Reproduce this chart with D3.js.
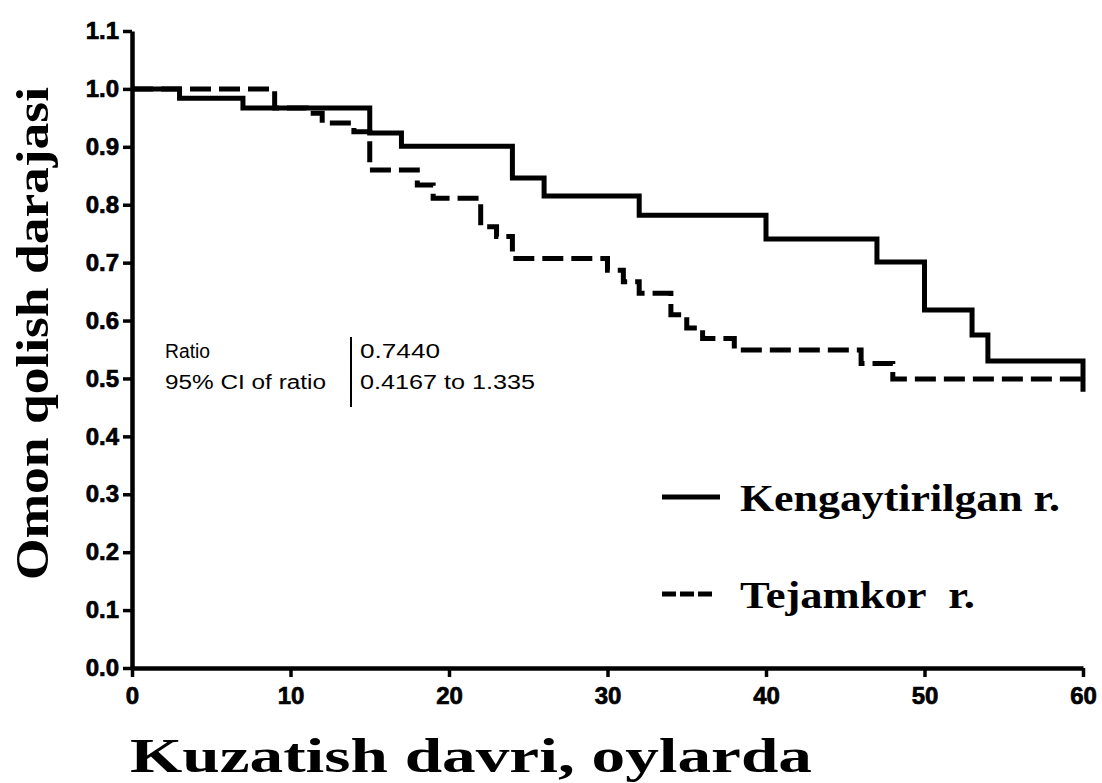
<!DOCTYPE html>
<html>
<head>
<meta charset="utf-8">
<script src="https://cdn.jsdelivr.net/npm/d3@7"></script>
<style>
  body { margin: 0; background: #fff; }
  .title { font-family: "Liberation Serif", "Times New Roman", serif; font-weight: bold; fill: #000; }
  .note { font-family: "Liberation Sans", Arial, sans-serif; font-size: 20px; fill: #000; }
</style>
</head>
<body>
<svg id="chart" width="1102" height="783"></svg>
<script>
// months and survival for the two groups
let timeKeng = [0, 3, 7, 15, 17, 24, 26, 32, 40, 47, 50, 53, 54, 60];
let survKeng = [1.0, 0.984, 0.967, 0.924, 0.901, 0.846, 0.815, 0.782, 0.741, 0.701, 0.618, 0.575, 0.530, 0.477];

let timeTeja = [0, 9, 11, 12, 14, 15, 18, 19, 22, 23, 24, 30, 31, 32, 34, 35, 36, 38, 46, 48, 60];
let survTeja = [1.0, 0.967, 0.958, 0.941, 0.926, 0.860, 0.834, 0.811, 0.762, 0.745, 0.707, 0.687, 0.667, 0.647, 0.610, 0.587, 0.569, 0.549, 0.526, 0.499, 0.499];

let xTicks = [0, 10, 20, 30, 40, 50, 60];
let yTicks = [0, 0.1, 0.2, 0.3, 0.4, 0.5, 0.6, 0.7, 0.8, 0.9, 1.0, 1.1];

let seriesNames = ["Kengaytirilgan r.", "Tejamkor  r."];
let noteLabels = ["Ratio", "95% CI of ratio"];
let noteValues = ["0.7440", "0.4167 to 1.335"];

let svg = d3.select("#chart");
svg.append("rect").attr("width", 1102).attr("height", 783).attr("fill", "#fff");

let xScale = d3.scaleLinear().domain([0, 60]).range([132, 1083]);
let yScale = d3.scaleLinear().domain([0, 1.1]).range([668, 31]);

let line = d3.line()
    .x(d => xScale(d[0]))
    .y(d => yScale(d[1]))
    .curve(d3.curveStepAfter);

svg.append("path")
    .datum(d3.zip(timeTeja, survTeja))
    .attr("d", line)
    .attr("fill", "none")
    .attr("stroke", "#000")
    .attr("stroke-width", 5)
    .attr("stroke-dasharray", "21,8");

svg.append("path")
    .datum(d3.zip(timeKeng, survKeng))
    .attr("d", line)
    .attr("fill", "none")
    .attr("stroke", "#000")
    .attr("stroke-width", 5);

let x_axis = d3.axisBottom(xScale).tickValues(xTicks).tickSize(9).tickSizeOuter(0).tickPadding(10);
let y_axis = d3.axisLeft(yScale).tickValues(yTicks).tickFormat(d3.format(".1f")).tickSize(9).tickSizeOuter(0).tickPadding(4);

let gx = svg.append("g").attr("class", "axis")
    .attr("transform", `translate(0,${yScale(0)})`)
    .call(x_axis);
let gy = svg.append("g").attr("class", "axis")
    .attr("transform", `translate(${xScale(0)},0)`)
    .call(y_axis);

[gx, gy].forEach(g => {
    g.select(".domain").attr("stroke", "#000").attr("stroke-width", 4.5);
    g.selectAll(".tick line").attr("stroke", "#000").attr("stroke-width", 3.5);
    g.selectAll(".tick text")
        .attr("font-family", "'Liberation Sans', Arial, sans-serif")
        .attr("font-weight", "bold")
        .attr("font-size", 24)
        .attr("fill", "#000")
        .attr("stroke", "#000")
        .attr("stroke-width", 0.7);
});

// axis titles (the source lettering is stretched sideways, so fit widths)
svg.append("text")
    .attr("class", "title")
    .attr("x", 130).attr("y", 772)
    .attr("textLength", 682)
    .attr("lengthAdjust", "spacingAndGlyphs")
    .style("font-size", "48px")
    .text("Kuzatish davri, oylarda");

svg.append("g")
    .attr("transform", `translate(${48},${580}) rotate(270)`)
    .append("text")
    .attr("class", "title")
    .attr("textLength", 493)
    .attr("lengthAdjust", "spacingAndGlyphs")
    .style("font-size", "46px")
    .text("Omon qolish darajasi");

// legend
let legend = svg.append("g");
let legendY = [497, 594];
let legendW = [320, 235];
legend.selectAll(".leg-line")
    .data(seriesNames)
    .enter()
    .append("line")
    .attr("x1", 662).attr("x2", (d, i) => i == 1 ? 712 : 720)
    .attr("y1", (d, i) => legendY[i]).attr("y2", (d, i) => legendY[i])
    .attr("stroke", "#000")
    .attr("stroke-width", 5)
    .attr("stroke-dasharray", (d, i) => i == 1 ? "14,4" : null);

legend.selectAll(".leg-text")
    .data(seriesNames)
    .enter()
    .append("text")
    .attr("class", "title")
    .attr("x", 740)
    .attr("y", (d, i) => legendY[i] + 14)
    .attr("textLength", (d, i) => legendW[i])
    .attr("lengthAdjust", "spacingAndGlyphs")
    .style("font-size", "38px")
    .style("white-space", "pre")
    .text(d => d);

// ratio box
let note = svg.append("g");
let labelW = [45, 161];
let valueW = [80, 175];
note.selectAll(".lab")
    .data(noteLabels)
    .enter()
    .append("text")
    .attr("class", "note")
    .attr("x", 165)
    .attr("y", (d, i) => 358 + i * 31)
    .attr("textLength", (d, i) => labelW[i])
    .attr("lengthAdjust", "spacingAndGlyphs")
    .text(d => d);
note.selectAll(".val")
    .data(noteValues)
    .enter()
    .append("text")
    .attr("class", "note")
    .attr("x", 360)
    .attr("y", (d, i) => 358 + i * 31)
    .attr("textLength", (d, i) => valueW[i])
    .attr("lengthAdjust", "spacingAndGlyphs")
    .text(d => d);
note.append("line")
    .attr("x1", 351).attr("x2", 351)
    .attr("y1", 337).attr("y2", 407)
    .attr("stroke", "#000").attr("stroke-width", 2);
</script>
</body>
</html>
